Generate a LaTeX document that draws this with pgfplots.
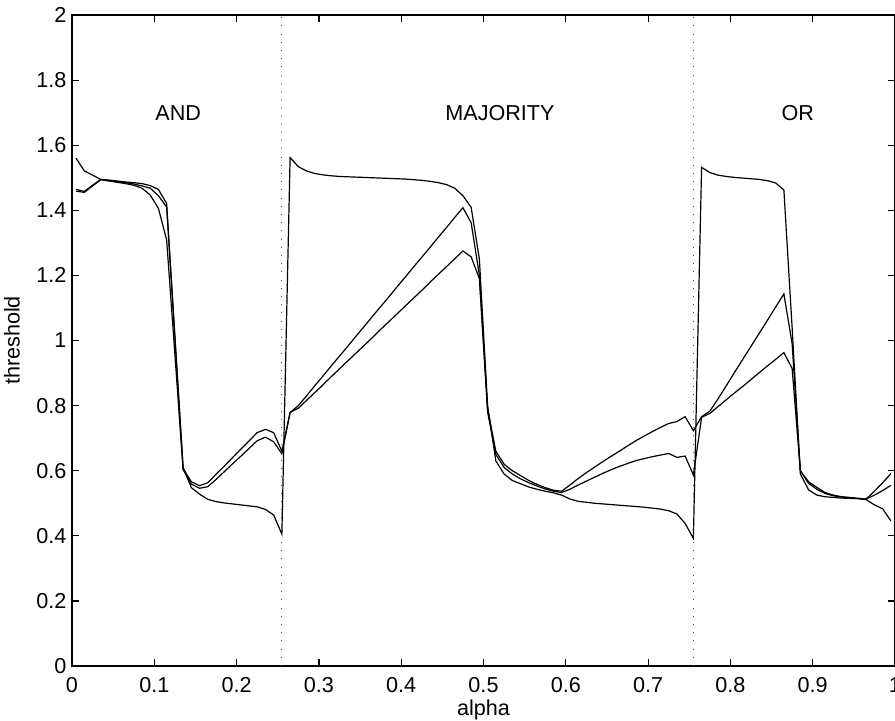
\documentclass[border=0pt]{standalone}
\usepackage{fontspec}
\setmainfont{Liberation Sans}
\usepackage{pgfplots}
\usepackage{pgfplotstable}
\pgfplotsset{compat=1.18}
\pgfplotstableread{
x A B C
0.005 1.464 1.459 1.560
0.015 1.458 1.455 1.521
0.025 1.477 1.475 1.508
0.035 1.495 1.494 1.495
0.045 1.491 1.490 1.493
0.055 1.488 1.486 1.490
0.065 1.485 1.482 1.487
0.075 1.481 1.477 1.485
0.085 1.475 1.468 1.482
0.095 1.468 1.447 1.476
0.105 1.445 1.406 1.464
0.115 1.410 1.309 1.421
0.125 1.010 0.958 1.015
0.135 0.607 0.603 0.610
0.145 0.566 0.559 0.548
0.155 0.554 0.546 0.528
0.165 0.563 0.551 0.512
0.175 0.589 0.573 0.505
0.185 0.614 0.597 0.501
0.195 0.640 0.621 0.498
0.205 0.666 0.644 0.495
0.215 0.691 0.668 0.492
0.225 0.717 0.692 0.489
0.235 0.727 0.703 0.481
0.245 0.717 0.689 0.464
0.255 0.660 0.652 0.405
0.265 0.779 0.779 1.562
0.275 0.800 0.792 1.534
0.285 0.830 0.816 1.521
0.295 0.861 0.840 1.513
0.305 0.891 0.864 1.509
0.315 0.922 0.889 1.506
0.325 0.952 0.913 1.504
0.335 0.982 0.937 1.503
0.345 1.013 0.961 1.502
0.355 1.043 0.985 1.501
0.365 1.074 1.009 1.500
0.375 1.104 1.034 1.499
0.385 1.134 1.058 1.498
0.395 1.165 1.082 1.497
0.405 1.195 1.106 1.496
0.415 1.226 1.130 1.494
0.425 1.256 1.154 1.492
0.435 1.286 1.179 1.489
0.445 1.317 1.203 1.485
0.455 1.347 1.227 1.479
0.465 1.378 1.251 1.468
0.475 1.408 1.275 1.445
0.485 1.362 1.257 1.409
0.495 1.200 1.190 1.250
0.505 0.790 0.780 0.800
0.515 0.660 0.650 0.630
0.525 0.620 0.610 0.590
0.535 0.600 0.590 0.570
0.545 0.585 0.575 0.560
0.555 0.570 0.563 0.550
0.565 0.558 0.553 0.543
0.575 0.548 0.544 0.537
0.585 0.540 0.537 0.532
0.595 0.537 0.533 0.525
0.605 0.556 0.543 0.513
0.615 0.576 0.556 0.506
0.625 0.594 0.568 0.503
0.635 0.611 0.580 0.500
0.645 0.628 0.592 0.498
0.655 0.644 0.603 0.496
0.665 0.660 0.613 0.494
0.675 0.676 0.622 0.492
0.685 0.692 0.631 0.490
0.695 0.706 0.637 0.488
0.705 0.720 0.643 0.485
0.715 0.733 0.648 0.482
0.725 0.745 0.653 0.477
0.735 0.751 0.641 0.467
0.745 0.766 0.645 0.438
0.755 0.723 0.587 0.392
0.765 0.766 0.764 1.532
0.775 0.783 0.776 1.516
0.785 0.821 0.797 1.508
0.795 0.861 0.818 1.504
0.805 0.902 0.839 1.501
0.815 0.942 0.859 1.499
0.825 0.982 0.880 1.497
0.835 1.022 0.901 1.495
0.845 1.062 0.922 1.491
0.855 1.103 0.942 1.484
0.865 1.143 0.963 1.462
0.875 0.990 0.914 1.040
0.885 0.600 0.600 0.590
0.895 0.566 0.561 0.541
0.905 0.549 0.543 0.525
0.915 0.533 0.530 0.520
0.925 0.525 0.523 0.518
0.935 0.520 0.519 0.516
0.945 0.518 0.517 0.515
0.955 0.515 0.515 0.514
0.965 0.513 0.513 0.511
0.975 0.537 0.525 0.495
0.985 0.563 0.539 0.483
0.995 0.591 0.555 0.446
}\datatable
\begin{document}
\fontsize{10.8}{13}\selectfont
\begin{tikzpicture}
\begin{axis}[
  at={(0,0)}, anchor=south west,
  width=411.5pt, height=325.5pt, scale only axis,
  xmin=0, xmax=1, ymin=0, ymax=2,
  xtick={0,0.1,0.2,0.3,0.4,0.5,0.6,0.7,0.8,0.9,1},
  ytick={0,0.2,0.4,0.6,0.8,1,1.2,1.4,1.6,1.8,2},
  tick align=inside, major tick length=3.5pt,
  axis line style={line width=0.6pt},
  tick style={line width=0.6pt, black},
  /pgf/number format/assume math mode=true,
  ticklabel style={font=\fontsize{10.8}{13}\selectfont},
  xticklabel style={yshift=-2pt},
  yticklabel style={xshift=1pt},
  xlabel={alpha}, ylabel={threshold},
  label style={font=\fontsize{10.8}{13}\selectfont},
  xlabel style={at={(axis description cs:0.5,-0.0676)}, anchor=center},
  ylabel style={at={(axis description cs:-0.0729,0.5)}, anchor=center},
]
\addplot[black, line width=0.6pt] table[x=x, y=A] {\datatable};
\addplot[black, line width=0.6pt] table[x=x, y=B] {\datatable};
\addplot[black, line width=0.6pt] table[x=x, y=C] {\datatable};
\addplot[black!70, line width=0.5pt, dash pattern=on 0.5pt off 3.6pt] coordinates {(0.255,0) (0.255,2)};
\addplot[black!70, line width=0.5pt, dash pattern=on 0.5pt off 3.6pt] coordinates {(0.755,0) (0.755,2)};
\node at (axis cs:0.129,1.70) {AND};
\node at (axis cs:0.520,1.70) {MAJORITY};
\node at (axis cs:0.882,1.70) {OR};
\end{axis}
\pgfresetboundingbox
\path[use as bounding box] (-36pt,-27pt) rectangle (411.5pt,333pt);
\end{tikzpicture}
\end{document}
